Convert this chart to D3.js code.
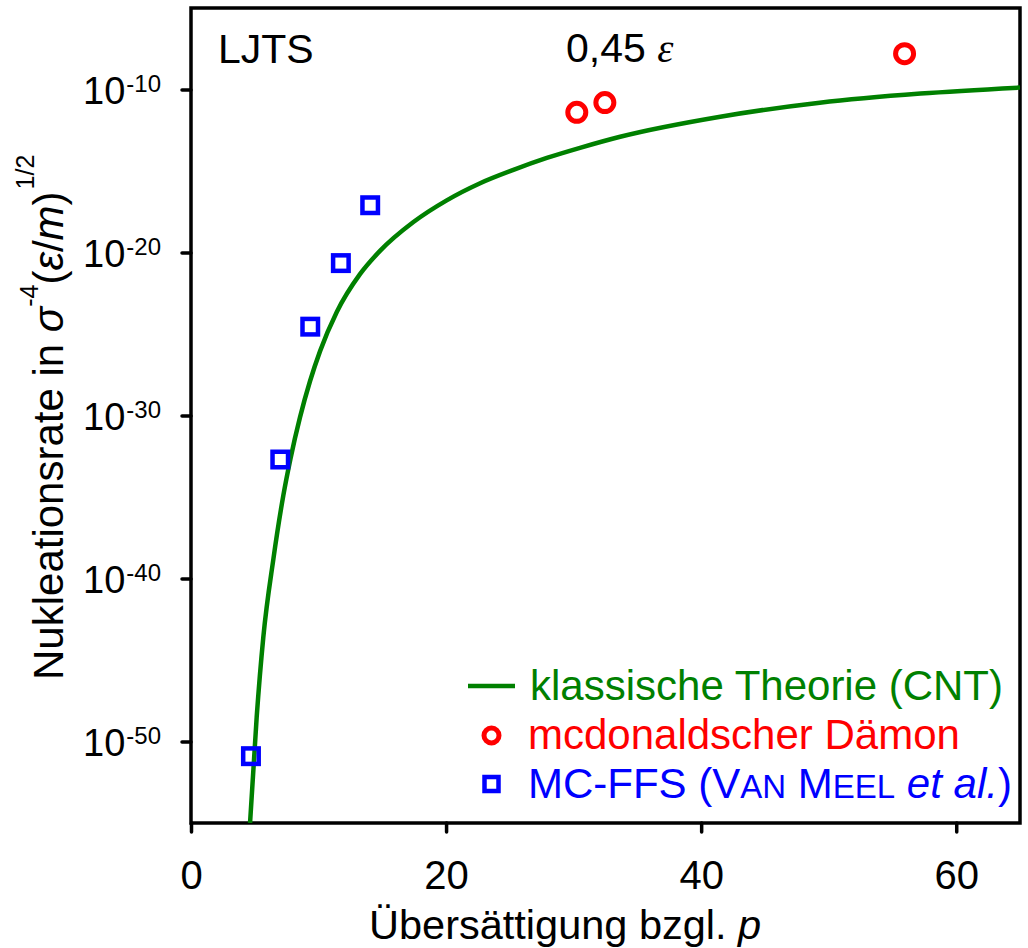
<!DOCTYPE html>
<html>
<head>
<meta charset="utf-8">
<script src="https://cdn.jsdelivr.net/npm/d3@7"></script>
<style>
  html, body { margin: 0; padding: 0; background: #fff; }
  svg { display: block; font-family: "Liberation Sans", Arial, sans-serif; }
</style>
</head>
<body>
<svg id="chart" width="1028" height="948"></svg>
<script>
// ---- data (y values given as base-10 exponents) ----
const cntX = [4.63, 5.15, 5.67, 6.46, 7.24, 7.8, 8.55, 9.33, 10.12, 11.43, 13.25, 14.82, 17.44, 20.05, 22.67, 25.28, 27.9, 30.5, 33.65, 41.5, 49.3, 57.2, 65.0];
const cntExp = [-55.0, -48.5, -43.6, -38.8, -34.9, -32.65, -30.1, -27.9, -26.05, -23.65, -21.33, -19.9, -18.13, -16.8, -15.75, -14.93, -14.2, -13.58, -12.9, -11.67, -10.81, -10.25, -9.88];

const mdX = [30.25, 32.45, 55.95];
const mdExp = [-11.4, -10.8, -7.8];

const ffsX = [4.7, 7.0, 9.35, 11.75, 14.05];
const ffsExp = [-50.9, -32.7, -24.55, -20.65, -17.1];

const xTicks = [0, 20, 40, 60];
const yTickExps = [-50, -40, -30, -20, -10];

const svg = d3.select("#chart");
const L = 191, R = 1020, T = 8, B = 823;

const x = d3.scaleLinear().domain([0, 65]).range([L, R]);
const y = d3.scaleLog().domain([1e-55, 1e-5]).range([B, T]);

const green = "#008000", red = "#ff0000", blue = "#0000ff";

svg.append("defs").append("clipPath").attr("id", "clip")
  .append("rect").attr("x", L).attr("y", T).attr("width", R - L).attr("height", B - T);

// axes (ticks only)
const xAxis = svg.append("g").attr("transform", `translate(0,${B})`)
  .call(d3.axisBottom(x).tickValues(xTicks).tickSize(9).tickFormat(d => d));
xAxis.select(".domain").remove();
xAxis.selectAll(".tick line").attr("stroke", "#000").attr("stroke-width", 3.5).attr("stroke-linecap", "round");
xAxis.selectAll(".tick text").attr("font-size", 40).attr("font-family", "Liberation Sans, Arial, sans-serif")
  .attr("fill", "#000").attr("y", 0).attr("dy", 66);

const yAxis = svg.append("g").attr("transform", `translate(${L},0)`)
  .call(d3.axisLeft(y).tickValues(yTickExps.map(e => Math.pow(10, e))).tickSize(9).tickFormat(""));
yAxis.select(".domain").remove();
yAxis.selectAll(".tick line").attr("stroke", "#000").attr("stroke-width", 3.5).attr("stroke-linecap", "round");
yAxis.selectAll(".tick text").remove();
yAxis.selectAll(".tick").each(function(d, i) {
  const t = d3.select(this).append("text")
    .attr("x", -30).attr("y", 13.5).attr("text-anchor", "end")
    .attr("font-family", "Liberation Sans, Arial, sans-serif").attr("fill", "#000");
  t.append("tspan").attr("font-size", 38).text("10");
  t.append("tspan").attr("font-size", 24).attr("dy", -12).attr("dx", 1).text(String(yTickExps[i]));
});

// frame
svg.append("rect").attr("x", L).attr("y", T).attr("width", R - L).attr("height", B - T)
  .attr("fill", "none").attr("stroke", "#000").attr("stroke-width", 3.5);

// CNT curve
const cnt = cntX.map((v, i) => [v, Math.pow(10, cntExp[i])]);
svg.append("path").datum(cnt)
  .attr("clip-path", "url(#clip)")
  .attr("fill", "none").attr("stroke", green).attr("stroke-width", 4.5)
  .attr("d", d3.line().x(d => x(d[0])).y(d => y(d[1])).curve(d3.curveMonotoneX));

// McDonald demon circles
svg.selectAll("circle.md").data(mdX.map((v, i) => [v, Math.pow(10, mdExp[i])])).enter()
  .append("circle").attr("class", "md")
  .attr("cx", d => x(d[0])).attr("cy", d => y(d[1])).attr("r", 9)
  .attr("fill", "none").attr("stroke", red).attr("stroke-width", 5);

// MC-FFS squares
const sq = 15.5;
svg.selectAll("rect.ffs").data(ffsX.map((v, i) => [v, Math.pow(10, ffsExp[i])])).enter()
  .append("rect").attr("class", "ffs")
  .attr("x", d => x(d[0]) - sq / 2).attr("y", d => y(d[1]) - sq / 2)
  .attr("width", sq).attr("height", sq)
  .attr("fill", "none").attr("stroke", blue).attr("stroke-width", 4.5);

// annotations
svg.append("text").attr("x", 218).attr("y", 63).attr("font-size", 41).attr("fill", "#000").text("LJTS");
const ann = svg.append("text").attr("x", 566).attr("y", 62).attr("font-size", 41).attr("fill", "#000");
ann.append("tspan").text("0,45 ");
ann.append("tspan").attr("font-family", "Liberation Serif, serif").attr("font-style", "italic").text("ε");

// legend
svg.append("line").attr("x1", 468).attr("x2", 515).attr("y1", 686).attr("y2", 686)
  .attr("stroke", green).attr("stroke-width", 4.5);
svg.append("text").attr("x", 530).attr("y", 700).attr("font-size", 42).attr("fill", green)
  .text("klassische Theorie (CNT)");
svg.append("circle").attr("cx", 491.5).attr("cy", 735.5).attr("r", 7.5)
  .attr("fill", "none").attr("stroke", red).attr("stroke-width", 5);
svg.append("text").attr("x", 528).attr("y", 749).attr("font-size", 42).attr("fill", red)
  .text("mcdonaldscher Dämon");
svg.append("rect").attr("x", 491.5 - 7).attr("y", 784 - 7).attr("width", 14).attr("height", 14)
  .attr("fill", "none").attr("stroke", blue).attr("stroke-width", 4.5);
const lg3 = svg.append("text").attr("x", 528).attr("y", 798).attr("font-size", 42).attr("fill", blue);
lg3.append("tspan").text("MC-FFS (V");
lg3.append("tspan").attr("font-size", 33).text("AN");
lg3.append("tspan").text(" M");
lg3.append("tspan").attr("font-size", 33).text("EEL");
lg3.append("tspan").text(" ");
lg3.append("tspan").attr("font-style", "italic").text("et al.");
lg3.append("tspan").text(")");

// x axis title
const xt = svg.append("text").attr("x", 369).attr("y", 939).attr("font-size", 41.5).attr("fill", "#000");
xt.append("tspan").text("Übersättigung bzgl. ");
xt.append("tspan").attr("font-style", "italic").text("p");

// y axis title
const yt = svg.append("text").attr("transform", "translate(63,680) rotate(-90)")
  .attr("font-size", 42).attr("fill", "#000");
yt.append("tspan").text("Nukleationsrate in ");
yt.append("tspan").attr("font-style", "italic").text("σ");
yt.append("tspan").attr("font-size", 25).attr("dy", -25).text("-4");
yt.append("tspan").attr("dy", 25).text("(");
yt.append("tspan").attr("font-style", "italic").text("ε");
yt.append("tspan").text("/");
yt.append("tspan").attr("font-style", "italic").text("m");
yt.append("tspan").text(")");
yt.append("tspan").attr("font-size", 25).attr("dy", -29).attr("dx", 2).text("1/2");
</script>
</body>
</html>
